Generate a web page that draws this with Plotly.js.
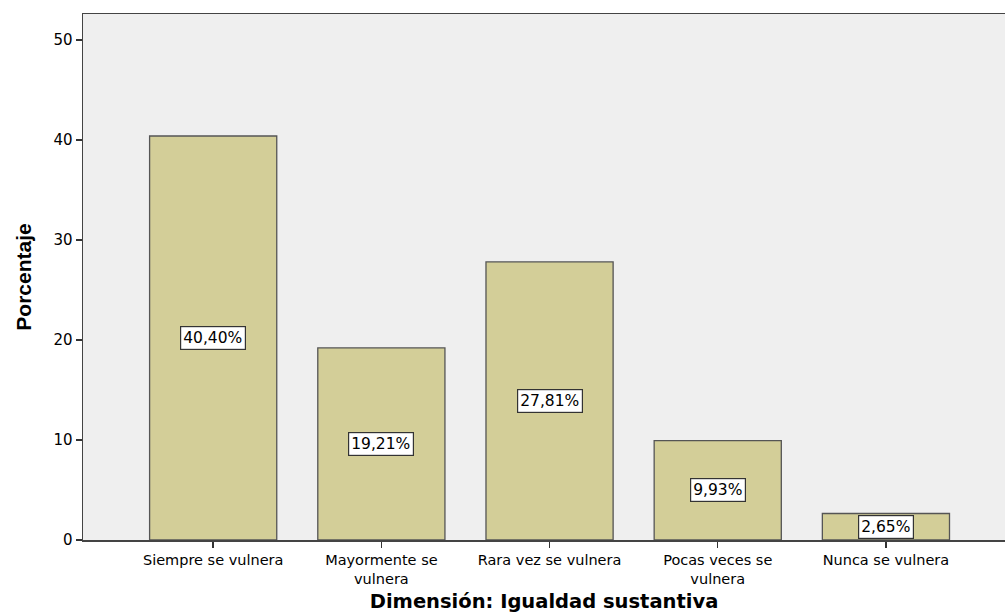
<!DOCTYPE html>
<html>
<head>
<meta charset="utf-8">
<script src="https://cdn.plot.ly/plotly-3.0.1.min.js"></script>
<style>html,body{margin:0;padding:0;background:#fff;}#chart{width:1005px;height:613px;}</style>
</head>
<body>
<div id="chart"></div>
<script>
const categories = ["Siempre se vulnera", "Mayormente se vulnera", "Rara vez se vulnera", "Pocas veces se vulnera", "Nunca se vulnera"];
const tickLabels = ["Siempre se vulnera", "Mayormente se<br>vulnera", "Rara vez se vulnera", "Pocas veces se<br>vulnera", "Nunca se vulnera"];
const percentages = [40.40, 19.21, 27.81, 9.93, 2.65];
const valueLabels = ["40,40%", "19,21%", "27,81%", "9,93%", "2,65%"];

const trace = {
  type: 'bar',
  x: categories,
  y: percentages,
  marker: {color: '#d3ce98', line: {color: '#555555', width: 1.3}},
  hoverinfo: 'none'
};

const annotations = categories.map((c, i) => ({
  x: c, y: percentages[i] / 2, xref: 'x', yref: 'y',
  text: valueLabels[i], showarrow: false,
  font: {family: 'DejaVu Sans, Verdana, sans-serif', size: 15.5, color: '#000'},
  bgcolor: '#ffffff', bordercolor: '#333333', borderwidth: 1.2, borderpad: 2
}));

const layout = {
  width: 1005, height: 613,
  margin: {l: 83, r: 0, t: 14, b: 73},
  paper_bgcolor: '#ffffff',
  plot_bgcolor: '#efefef',
  bargap: 0.244,
  showlegend: false,
  font: {family: 'DejaVu Sans, Verdana, sans-serif', size: 14, color: '#000'},
  xaxis: {
    type: 'category',
    range: [-0.774, 4.708],
    tickvals: categories,
    ticktext: tickLabels,
    ticks: 'outside', ticklen: 6, tickwidth: 1.5, tickcolor: '#333',
    showline: true, linecolor: '#444', linewidth: 1.5, mirror: true,
    showgrid: false, zeroline: false,
    tickfont: {family: 'DejaVu Sans, Verdana, sans-serif', size: 14.5, color: '#000'},
    title: {text: 'Dimensión: Igualdad sustantiva', standoff: 11,
      font: {family: 'DejaVu Sans, Verdana, sans-serif', size: 19.5, color: '#000', weight: 'bold'}}
  },
  yaxis: {
    range: [0, 52.6],
    tickvals: [0, 10, 20, 30, 40, 50],
    ticks: 'outside', ticklen: 6, tickwidth: 1.5, tickcolor: '#333',
    showline: true, linecolor: '#444', linewidth: 1.5,
    showgrid: false, zeroline: false,
    tickfont: {family: 'DejaVu Sans, Verdana, sans-serif', size: 15, color: '#000'},
    title: {text: 'Porcentaje', standoff: 16,
      font: {family: 'Liberation Sans Narrow, Liberation Sans, Arial, sans-serif', size: 21, color: '#000', weight: 'bold'}}
  },
  annotations: annotations
};

Plotly.newPlot('chart', [trace], layout, {staticPlot: true, displayModeBar: false});
</script>
</body>
</html>
